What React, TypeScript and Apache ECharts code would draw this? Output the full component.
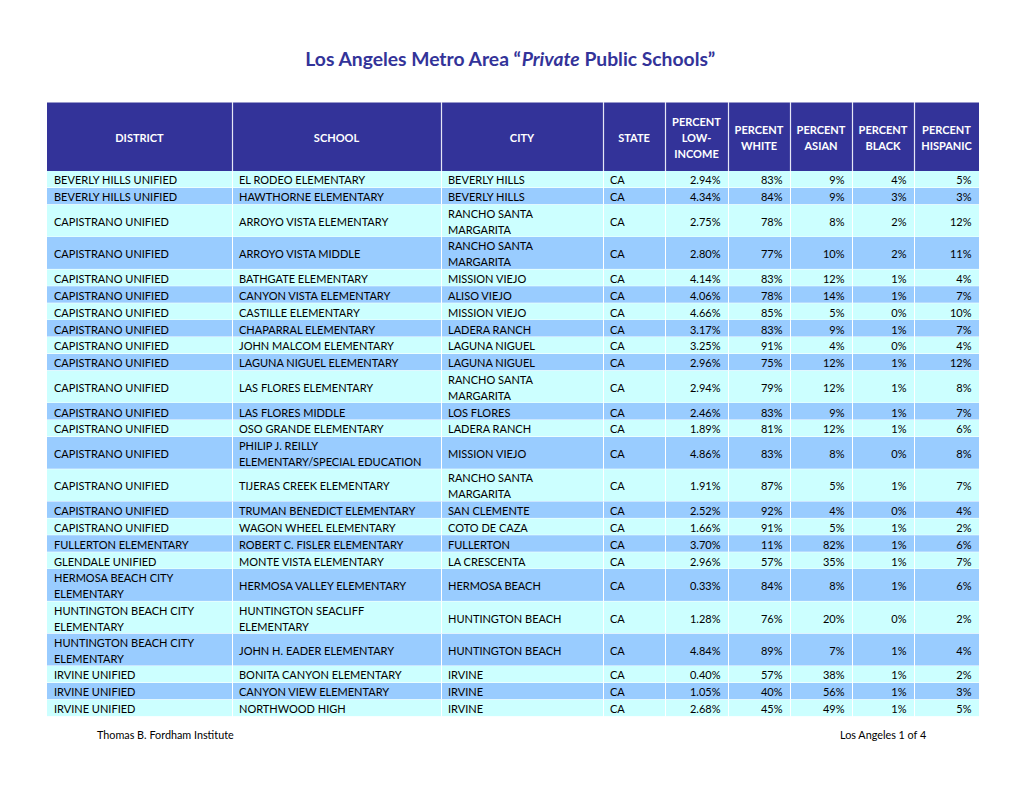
import React, { useEffect, useRef } from "react";
import * as echarts from "echarts";

// ---------- DATA ----------
const headers = [
  "DISTRICT",
  "SCHOOL",
  "CITY",
  "STATE",
  "PERCENT\nLOW-\nINCOME",
  "PERCENT\nWHITE",
  "PERCENT\nASIAN",
  "PERCENT\nBLACK",
  "PERCENT\nHISPANIC",
];

const districts = [
  "BEVERLY HILLS UNIFIED",
  "BEVERLY HILLS UNIFIED",
  "CAPISTRANO UNIFIED",
  "CAPISTRANO UNIFIED",
  "CAPISTRANO UNIFIED",
  "CAPISTRANO UNIFIED",
  "CAPISTRANO UNIFIED",
  "CAPISTRANO UNIFIED",
  "CAPISTRANO UNIFIED",
  "CAPISTRANO UNIFIED",
  "CAPISTRANO UNIFIED",
  "CAPISTRANO UNIFIED",
  "CAPISTRANO UNIFIED",
  "CAPISTRANO UNIFIED",
  "CAPISTRANO UNIFIED",
  "CAPISTRANO UNIFIED",
  "CAPISTRANO UNIFIED",
  "FULLERTON ELEMENTARY",
  "GLENDALE UNIFIED",
  "HERMOSA BEACH CITY\nELEMENTARY",
  "HUNTINGTON BEACH CITY\nELEMENTARY",
  "HUNTINGTON BEACH CITY\nELEMENTARY",
  "IRVINE UNIFIED",
  "IRVINE UNIFIED",
  "IRVINE UNIFIED",
];

const schools = [
  "EL RODEO ELEMENTARY",
  "HAWTHORNE ELEMENTARY",
  "ARROYO VISTA ELEMENTARY",
  "ARROYO VISTA MIDDLE",
  "BATHGATE ELEMENTARY",
  "CANYON VISTA ELEMENTARY",
  "CASTILLE ELEMENTARY",
  "CHAPARRAL ELEMENTARY",
  "JOHN MALCOM ELEMENTARY",
  "LAGUNA NIGUEL ELEMENTARY",
  "LAS FLORES ELEMENTARY",
  "LAS FLORES MIDDLE",
  "OSO GRANDE ELEMENTARY",
  "PHILIP J. REILLY\nELEMENTARY/SPECIAL EDUCATION",
  "TIJERAS CREEK ELEMENTARY",
  "TRUMAN BENEDICT ELEMENTARY",
  "WAGON WHEEL ELEMENTARY",
  "ROBERT C. FISLER ELEMENTARY",
  "MONTE VISTA ELEMENTARY",
  "HERMOSA VALLEY ELEMENTARY",
  "HUNTINGTON SEACLIFF\nELEMENTARY",
  "JOHN H. EADER ELEMENTARY",
  "BONITA CANYON ELEMENTARY",
  "CANYON VIEW ELEMENTARY",
  "NORTHWOOD HIGH",
];

const cities = [
  "BEVERLY HILLS",
  "BEVERLY HILLS",
  "RANCHO SANTA\nMARGARITA",
  "RANCHO SANTA\nMARGARITA",
  "MISSION VIEJO",
  "ALISO VIEJO",
  "MISSION VIEJO",
  "LADERA RANCH",
  "LAGUNA NIGUEL",
  "LAGUNA NIGUEL",
  "RANCHO SANTA\nMARGARITA",
  "LOS FLORES",
  "LADERA RANCH",
  "MISSION VIEJO",
  "RANCHO SANTA\nMARGARITA",
  "SAN CLEMENTE",
  "COTO DE CAZA",
  "FULLERTON",
  "LA CRESCENTA",
  "HERMOSA BEACH",
  "HUNTINGTON BEACH",
  "HUNTINGTON BEACH",
  "IRVINE",
  "IRVINE",
  "IRVINE",
];

const states = [
  "CA", "CA", "CA", "CA", "CA", "CA", "CA", "CA", "CA", "CA", "CA", "CA", "CA",
  "CA", "CA", "CA", "CA", "CA", "CA", "CA", "CA", "CA", "CA", "CA", "CA",
];

const pctLowIncome = [
  2.94, 4.34, 2.75, 2.8, 4.14, 4.06, 4.66, 3.17, 3.25, 2.96, 2.94, 2.46, 1.89,
  4.86, 1.91, 2.52, 1.66, 3.7, 2.96, 0.33, 1.28, 4.84, 0.4, 1.05, 2.68,
];
const pctWhite = [
  83, 84, 78, 77, 83, 78, 85, 83, 91, 75, 79, 83, 81, 83, 87, 92, 91, 11, 57, 84,
  76, 89, 57, 40, 45,
];
const pctAsian = [
  9, 9, 8, 10, 12, 14, 5, 9, 4, 12, 12, 9, 12, 8, 5, 4, 5, 82, 35, 8, 20, 7, 38,
  56, 49,
];
const pctBlack = [
  4, 3, 2, 2, 1, 1, 0, 1, 0, 1, 1, 1, 1, 0, 1, 0, 1, 1, 1, 1, 0, 1, 1, 1, 1,
];
const pctHispanic = [
  5, 3, 12, 11, 4, 7, 10, 7, 4, 12, 8, 7, 6, 8, 7, 4, 2, 6, 7, 6, 2, 4, 2, 3, 5,
];

const titleParts = ["Los Angeles Metro Area \u201C", "Private", " Public Schools\u201D"];
const footerLeft = "Thomas B. Fordham Institute";
const footerRight = "Los Angeles 1 of 4";

// ---------- LAYOUT ----------
const FONT = "Lato, 'Noto Sans', sans-serif";
const NAVY = "#333399";
const ROW_COLORS = ["#CCFFFF", "#99CCFF"];
const TABLE_W = 932;
const COL_EDGES = [0, 185, 394, 556, 618, 681, 743, 805, 867, 932];
const LINE_H = 15.4;
const ROW_PAD = 1.5;
const HEADER_H = 69;

const rowLines = districts.map((d, i) =>
  Math.max(
    d.split("\n").length,
    schools[i].split("\n").length,
    cities[i].split("\n").length
  )
);
const rowSpans: number[][] = [];
{
  let acc = 0;
  rowLines.forEach((n, i) => {
    const y0 = acc;
    acc += n * LINE_H + ROW_PAD;
    rowSpans.push([i, y0, acc]);
  });
}
const TOTAL_H = rowSpans[rowSpans.length - 1][2];

const fmtLow = (v: number) => v.toFixed(2) + "%";
const fmtPct = (v: number) => v + "%";

export default function App() {
  const ref = useRef<HTMLDivElement>(null);
  useEffect(() => {
    if (!ref.current) return;
    const chart = echarts.init(ref.current, undefined, { renderer: "svg" });

    const bodyRender = (params: any, api: any) => {
      const i = params.dataIndex;
      const y0 = api.value(1);
      const y1 = api.value(2);
      const [xL, yT] = api.coord([0, y0]);
      const [xR, yB] = api.coord([TABLE_W, y1]);
      const children: any[] = [];
      children.push({
        type: "rect",
        shape: { x: xL, y: yT, width: xR - xL, height: yB - yT },
        style: { fill: ROW_COLORS[i % 2] },
      });
      COL_EDGES.slice(1, -1).forEach((e) => {
        const x = Math.round(api.coord([e, y0])[0]) + 0.5;
        children.push({
          type: "line",
          shape: { x1: x, y1: yT, x2: x, y2: yB },
          style: { stroke: "#ffffff", lineWidth: 1 },
        });
      });
      children.push({
        type: "line",
        shape: { x1: xL, y1: yB, x2: xR, y2: yB },
        style: { stroke: "#ffffff", lineWidth: 1 },
      });
      const cells = [
        districts[i],
        schools[i],
        cities[i],
        states[i],
        fmtLow(pctLowIncome[i]),
        fmtPct(pctWhite[i]),
        fmtPct(pctAsian[i]),
        fmtPct(pctBlack[i]),
        fmtPct(pctHispanic[i]),
      ];
      cells.forEach((t, c) => {
        const left = api.coord([COL_EDGES[c], y0])[0];
        const right = api.coord([COL_EDGES[c + 1], y0])[0];
        const isNum = c >= 4;
        children.push({
          type: "text",
          style: {
            text: t,
            x: isNum ? right - 7.5 : left + 7,
            y: (yT + yB) / 2 + 0.5,
            align: isNum ? "right" : "left",
            verticalAlign: "middle",
            fill: "#000000",
            fontSize: 11,
            fontFamily: FONT,
            lineHeight: 16,
          },
        });
      });
      return { type: "group", children };
    };

    const headerRender = (params: any, api: any) => {
      const [xL, yT] = api.coord([0, -HEADER_H]);
      const [xR, yB] = api.coord([TABLE_W, 0]);
      const children: any[] = [];
      children.push({
        type: "rect",
        shape: { x: xL, y: yT, width: xR - xL, height: yB - yT },
        style: { fill: NAVY },
      });
      children.push({
        type: "line",
        shape: { x1: xL, y1: yT + 0.5, x2: xR, y2: yT + 0.5 },
        style: { stroke: "#9999CC", lineWidth: 1 },
      });
      COL_EDGES.slice(1, -1).forEach((e) => {
        const x = Math.round(api.coord([e, 0])[0]) + 0.5;
        children.push({
          type: "line",
          shape: { x1: x, y1: yT, x2: x, y2: yB },
          style: { stroke: "#E6E6F5", lineWidth: 1.2 },
        });
      });
      headers.forEach((h, c) => {
        const left = api.coord([COL_EDGES[c], 0])[0];
        const right = api.coord([COL_EDGES[c + 1], 0])[0];
        children.push({
          type: "text",
          style: {
            text: h,
            x: (left + right) / 2,
            y: (yT + yB) / 2 + 0.5,
            align: "center",
            verticalAlign: "middle",
            fill: "#ffffff",
            fontSize: 11,
            fontWeight: "bold",
            fontFamily: FONT,
            lineHeight: 16,
          },
        });
      });
      return { type: "group", children };
    };

    chart.setOption({
      animation: false,
      backgroundColor: "#ffffff",
      title: [
        {
          text: `{a|${titleParts[0]}}{b|${titleParts[1]}}{a|${titleParts[2]}}`,
          left: "center",
          top: 49,
          padding: 0,
          textStyle: {
            rich: {
              a: { fontFamily: FONT, fontSize: 19.3, fontWeight: "bold", color: NAVY },
              b: {
                fontFamily: FONT,
                fontSize: 19.3,
                fontWeight: "bold",
                fontStyle: "italic",
                color: NAVY,
              },
            },
          },
        },
        {
          text: footerLeft,
          left: 97,
          top: 729,
          padding: 0,
          textStyle: { fontFamily: FONT, fontSize: 10.8, fontWeight: "normal", color: "#000000" },
        },
        {
          text: footerRight,
          left: 840,
          top: 729,
          padding: 0,
          textStyle: { fontFamily: FONT, fontSize: 10.8, fontWeight: "normal", color: "#000000" },
        },
      ],
      grid: {
        left: 47,
        top: 102,
        width: TABLE_W,
        height: HEADER_H + TOTAL_H,
        containLabel: false,
        show: false,
      },
      xAxis: { type: "value", min: 0, max: TABLE_W, show: false },
      yAxis: {
        type: "value",
        min: -HEADER_H,
        max: TOTAL_H,
        inverse: true,
        show: false,
      },
      series: [
        {
          type: "custom",
          name: "header",
          renderItem: headerRender,
          data: [[0, -HEADER_H, 0]],
          clip: false,
          silent: true,
        },
        {
          type: "custom",
          name: "rows",
          renderItem: bodyRender,
          data: rowSpans,
          clip: false,
          silent: true,
        },
      ],
    });
    return () => chart.dispose();
  }, []);
  return (
    <div
      ref={ref}
      style={{ position: "absolute", left: 0, top: 0, width: 1020, height: 788 }}
    />
  );
}
